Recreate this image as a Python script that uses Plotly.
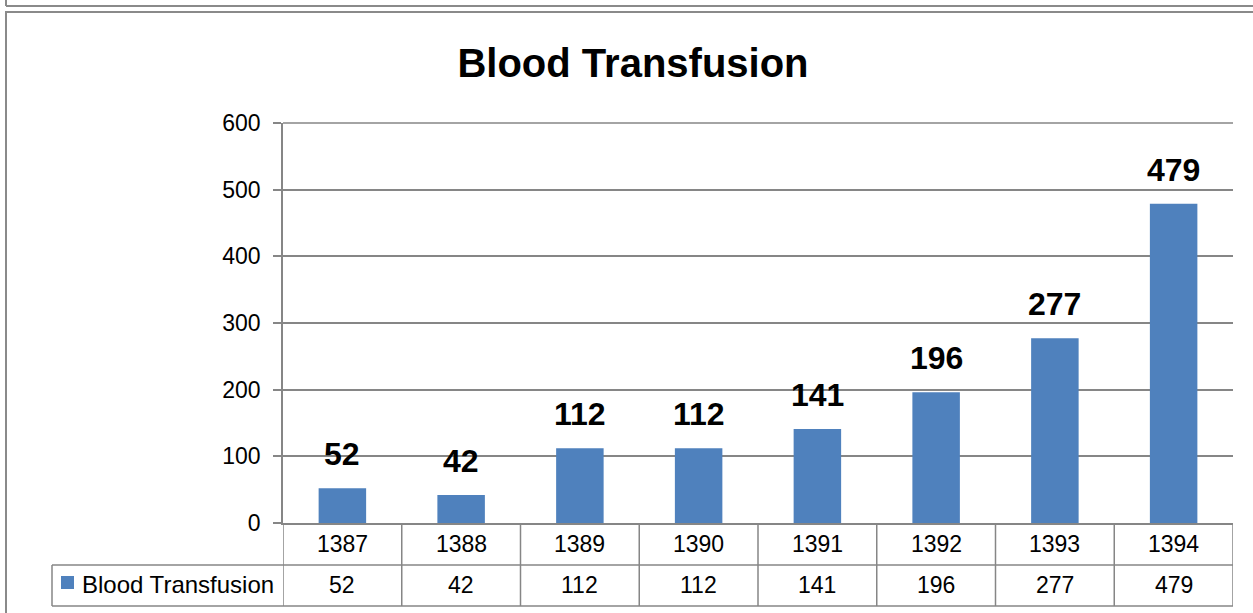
import plotly.graph_objects as go

# data
years = ["1387", "1388", "1389", "1390", "1391", "1392", "1393", "1394"]
transfusions = [52, 42, 112, 112, 141, 196, 277, 479]
series_name = "Blood Transfusion"
y_ticks = [0, 100, 200, 300, 400, 500, 600]

BLUE = "#4F81BD"
GRID = "#868686"
FONT = "Liberation Sans"

# pixel helpers (plot area: x 283..1233, y 123..523)
def px(x):
    return (x - 283) / 950

def py(y):
    return (523 - y) / 400

fig = go.Figure()
fig.add_trace(go.Bar(x=years, y=transfusions, name=series_name,
                     marker=dict(color=BLUE, line=dict(width=0)),
                     hoverinfo="x+y"))

shapes = []
line = dict(color=GRID, width=1.5)
# top gridline (plotly skips the one sitting on the range edge)
shapes.append(dict(type="line", xref="paper", yref="paper",
                   x0=0, x1=1, y0=1, y1=1, line=line))
# table grid: vertical lines at category boundaries
for i in range(len(years) + 1):
    shapes.append(dict(type="line", xref="x", yref="paper",
                       x0=i - 0.5, x1=i - 0.5, y0=0, y1=py(606), line=line))
# horizontal lines of the data table
for yy in [565, 606]:
    shapes.append(dict(type="line", xref="paper", yref="paper",
                       x0=px(52), x1=1, y0=py(yy), y1=py(yy), line=line))
shapes.append(dict(type="line", xref="paper", yref="paper",
                   x0=px(52), x1=px(52), y0=py(565), y1=py(606), line=line))
# legend key
shapes.append(dict(type="rect", xref="paper", yref="paper",
                   x0=px(61), x1=px(74), y0=py(576), y1=py(589),
                   fillcolor=BLUE, line=dict(width=0)))
# outer frames
frame = dict(color="#8a8a8a", width=2)
shapes.append(dict(type="line", xref="paper", yref="paper",
                   x0=px(6), x1=px(6), y0=py(-2), y1=py(6), line=frame))
shapes.append(dict(type="line", xref="paper", yref="paper",
                   x0=px(6), x1=px(1260), y0=py(6), y1=py(6), line=frame))
shapes.append(dict(type="rect", xref="paper", yref="paper",
                   x0=px(6), x1=px(1260), y0=py(620), y1=py(12), line=frame))

annotations = []
# data labels above bars (category index positions)
for i, v in enumerate(transfusions):
    annotations.append(dict(x=i, y=v, xref="x", yref="y", text="<b>%d</b>" % v,
                            showarrow=False, yanchor="middle", yshift=34,
                            font=dict(family=FONT, size=32, color="black")))
# table text
for i, (yr, v) in enumerate(zip(years, transfusions)):
    annotations.append(dict(x=i, y=py(544), xref="x", yref="paper", text=yr,
                            showarrow=False, yanchor="middle",
                            font=dict(family=FONT, size=23, color="black")))
    annotations.append(dict(x=i, y=py(585), xref="x", yref="paper", text=str(v),
                            showarrow=False, yanchor="middle",
                            font=dict(family=FONT, size=23, color="black")))
annotations.append(dict(x=px(80), y=py(584), xref="paper", yref="paper",
                        text=series_name, showarrow=False, xanchor="left",
                        yanchor="middle",
                        font=dict(family=FONT, size=24, color="black")))

fig.update_layout(
    width=1253, height=613,
    margin=dict(l=283, r=20, t=123, b=90),
    paper_bgcolor="white", plot_bgcolor="white",
    showlegend=False, bargap=0.6,
    title=dict(text="<b>Blood Transfusion</b>", x=633 / 1253, y=1 - 63 / 613,
               xanchor="center", yanchor="middle",
               font=dict(family=FONT, size=40, color="black")),
    font=dict(family=FONT, size=22, color="black"),
    xaxis=dict(type="category", range=[-0.5, 7.5], showticklabels=False,
               showgrid=False, showline=True, linecolor=GRID,
               linewidth=1.5, ticks="", fixedrange=True),
    yaxis=dict(range=[0, 600], tickvals=y_ticks, showgrid=True,
               gridcolor=GRID, gridwidth=1.5, showline=True, linecolor=GRID,
               linewidth=1.5, ticks="outside", ticklen=8, tickcolor=GRID,
               tickwidth=1.5, zeroline=False, tickfont=dict(size=23),
               ticklabelstandoff=8, fixedrange=True),
    shapes=shapes, annotations=annotations,
)

fig.write_html("out.html", config={"displayModeBar": False},
               post_script="document.body.style.margin='0';")
